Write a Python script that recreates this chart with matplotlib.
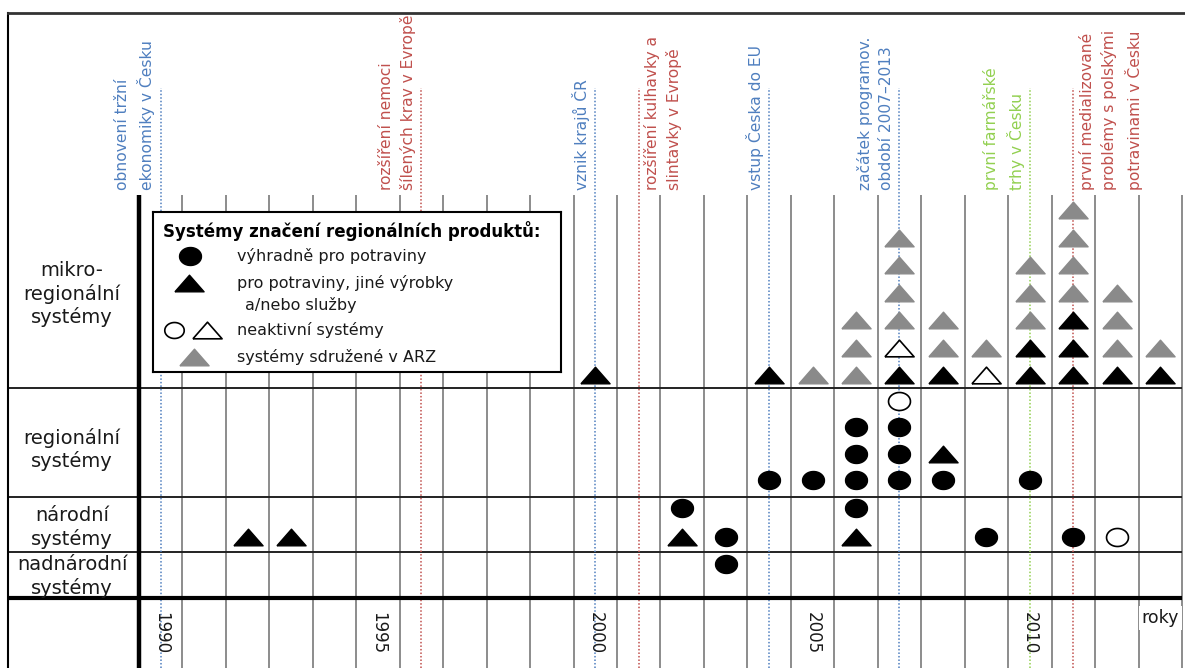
import numpy as np
import matplotlib
matplotlib.use("Agg")
import matplotlib.pyplot as plt

# ---- data ----
years = list(range(1990, 2014))
year_labels = [1990, 1995, 2000, 2005, 2010]

# marks stacked per year, from the bottom of each row up
# C = food only, T = food + other products/services, c / t = inactive, G = member of ARZ
micro = {2000: "T", 2004: "T", 2005: "G", 2006: "GGG", 2007: "TtGGGG",
         2008: "TGG", 2009: "tG", 2010: "TTGGG", 2011: "TTTGGGG",
         2012: "TGGG", 2013: "TG"}
regional = {2004: "C", 2005: "C", 2006: "CCC", 2007: "CCCc", 2008: "CT", 2010: "C"}
national = {1992: "T", 1993: "T", 2002: "TC", 2003: "C", 2006: "TC",
            2009: "C", 2011: "C", 2012: "c"}
supranational = {2003: "C"}

row_names = ["mikro-\nregionální\nsystémy", "regionální\nsystémy",
             "národní\nsystémy", "nadnárodní\nsystémy"]

event_years = [1990, 1996, 2000, 2001, 2004, 2007, 2010, 2011]
event_texts = ["obnovení tržní\nekonomiky v Česku",
               "rozšíření nemoci\nšílených krav v Evropě",
               "vznik krajů ČR",
               "rozšíření kulhavky a\nslintavky v Evropě",
               "vstup Česka do EU",
               "začátek programov.\nobdobí 2007–2013",
               "první farmářské\ntrhy v Česku",
               "první medializované\nproblémy s polskými\npotravinami v Česku"]
event_kinds = ["cz", "world", "cz", "world", "cz", "cz", "farm", "world"]
event_side = ["left", "left", "left", "right", "left", "left", "left", "right"]

legend_title = "Systémy značení regionálních produktů:"
legend_items = ["výhradně pro potraviny", "pro potraviny, jiné výrobky",
                "a/nebo služby", "neaktivní systémy", "systémy sdružené v ARZ"]

# ---- layout ----
kind_colors = {"cz": "#4f7fbf", "world": "#c0504d", "farm": "#92d050"}
rows = [micro, regional, national, supranational]
row_base = [8.1, 4.29, 2.22, 1.24]
row_step = [1.0, 0.963, 1.05, 1.0]
row_lines = [7.65, 3.67, 1.67]
row_label_y = [11.05, 5.4, 2.56, 0.78]
grid_top = 14.65
y_bot, y_top = -2.545, 21.27
x_left, x_right = 1986.486, 2013.57

tri = [(-1, -0.57), (1, -0.57), (0, 0.57), (-1, -0.57)]
t = np.linspace(0, 2 * np.pi, 60)
ell = list(zip(np.cos(t), 0.82 * np.sin(t)))

styles = {
    "C": dict(marker=ell, markersize=15.8, mfc="black", mec="black", mew=1),
    "T": dict(marker=tri, markersize=21, mfc="black", mec="black", mew=1),
    "c": dict(marker=ell, markersize=15.8, mfc="white", mec="black", mew=1.2),
    "t": dict(marker=tri, markersize=21, mfc="white", mec="black", mew=1.2),
    "G": dict(marker=tri, markersize=21, mfc="#8a8a8a", mec="#8a8a8a", mew=1),
}

fig = plt.figure(figsize=(11.85, 6.68), dpi=100)
ax = fig.add_axes([8 / 1185, 0, 1177 / 1185, 655 / 668])
ax.set_xlim(x_left, x_right)
ax.set_ylim(y_bot, y_top)
ax.set_xticks([])
ax.set_yticks([])
for s in ["right", "bottom"]:
    ax.spines[s].set_visible(False)
ax.spines["top"].set_linewidth(2)
ax.spines["top"].set_color("#333333")
ax.spines["left"].set_linewidth(1.5)

# grid of year columns
ax.vlines(np.arange(years[0] + 0.5, years[-1] + 1), y_bot, grid_top,
          color="#8c8c8c", lw=1.4, zorder=1)
ax.vlines(years[0] - 0.5, y_bot, grid_top, color="black", lw=3.2, zorder=3)
ax.hlines(row_lines, x_left, years[-1] + 0.5, color="#222222", lw=1.4, zorder=2)
ax.hlines(0, x_left, years[-1] + 0.5, color="black", lw=3, zorder=3)

# event lines and labels
for yr, txt, kind, side in zip(event_years, event_texts, event_kinds, event_side):
    col = kind_colors[kind]
    ax.vlines(yr, y_bot, 18.55, color=col, lw=1.1, linestyles=(0, (1, 1.3)), zorder=2)
    if side == "left":
        ax.text(yr - 0.12, 14.84, txt, rotation=90, ha="right", va="bottom",
                multialignment="left", linespacing=1.5, fontsize=11.2, color=col)
    else:
        ax.text(yr + 0.12, 14.84, txt, rotation=90, ha="left", va="bottom",
                multialignment="left", linespacing=1.5, fontsize=11.2, color=col)

# marks
for r, row in enumerate(rows):
    for code, st in styles.items():
        xs, ys = [], []
        for yr, stack in row.items():
            for k, c in enumerate(stack):
                if c == code:
                    xs.append(yr)
                    ys.append(row_base[r] + k * row_step[r])
        if xs:
            ax.plot(xs, ys, linestyle="none", zorder=4, **st)

# row labels
for name, y in zip(row_names, row_label_y):
    ax.text(1987.96, y, name, ha="center", va="center", fontsize=14,
            linespacing=1.2, color="#1a1a1a")

# year labels
for yr in year_labels:
    ax.text(yr, -0.51, str(yr), rotation=270, ha="center", va="top",
            fontsize=12, color="#1a1a1a")
ax.text(years[-1], -0.73, "roky", ha="center", va="center", fontsize=12.5,
        color="#1a1a1a", zorder=5,
        bbox=dict(facecolor="white", edgecolor="none", pad=2))

# legend box
lg = fig.add_axes([153 / 1185, 1 - 372 / 668, 408 / 1185, 160 / 668])
lg.set_xlim(0, 408)
lg.set_ylim(160, 0)
lg.set_xticks([])
lg.set_yticks([])
for s in lg.spines.values():
    s.set_linewidth(1.5)
lg.text(10, 19, legend_title, fontsize=12, fontweight="bold", va="center")
lg.plot([37], [44], linestyle="none", **styles["C"])
lg.plot([36], [71], linestyle="none", **styles["T"])
lg.plot([21], [118], linestyle="none", **dict(styles["c"], markersize=14))
lg.plot([54], [118], linestyle="none", **styles["t"])
lg.plot([41], [145], linestyle="none", **styles["G"])
for (x, y), txt in zip([(84, 44), (84, 71), (92, 93), (84, 118), (84, 145)], legend_items):
    lg.text(x, y, txt, fontsize=11.5, va="center", color="#1a1a1a")

fig.savefig("out.png", dpi=100)
